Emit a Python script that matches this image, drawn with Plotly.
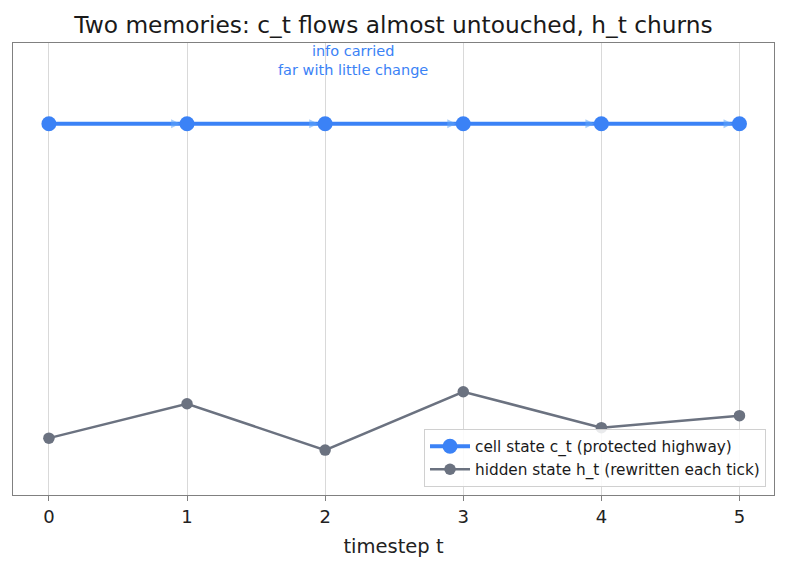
import plotly.graph_objects as go

timesteps = [0, 1, 2, 3, 4, 5]
cell_state = [1.0, 1.0, 1.0, 1.0, 1.0, 1.0]
hidden_state = [-0.05, 0.065, -0.09, 0.105, -0.015, 0.025]
x_ticks = [0, 1, 2, 3, 4, 5]

BLUE = "#3b82f6"
GRAY = "#6b7280"
FONT = "DejaVu Sans"

fig = go.Figure()
fig.add_trace(go.Scatter(
    x=timesteps, y=cell_state, mode="lines+markers",
    name="cell state c_t (protected highway)",
    line=dict(color=BLUE, width=4), marker=dict(size=15, color=BLUE),
))
fig.add_trace(go.Scatter(
    x=timesteps, y=hidden_state, mode="lines+markers",
    name="hidden state h_t (rewritten each tick)",
    line=dict(color=GRAY, width=2.5), marker=dict(size=11.5, color=GRAY),
))

# small arrowheads along the highway
for i in range(len(timesteps) - 1):
    fig.add_annotation(
        x=timesteps[i] + 0.95, y=cell_state[i + 1],
        ax=timesteps[i] + 0.88, ay=cell_state[i],
        xref="x", yref="y", axref="x", ayref="y",
        text="", showarrow=True, arrowhead=2, arrowsize=0.9, arrowwidth=2,
        arrowcolor="rgba(96,165,250,0.55)",
    )

fig.add_annotation(
    x=2.2, y=1.212, xref="x", yref="y", showarrow=False,
    text="info carried<br>far with little change",
    font=dict(family=FONT, size=14.5, color=BLUE), align="center",
)

fig.update_layout(
    width=787, height=569,
    margin=dict(l=13, r=13, t=43, b=74),
    paper_bgcolor="white", plot_bgcolor="white",
    font=dict(family=FONT, color="#222222"),
    title=dict(text="Two memories: c_t flows almost untouched, h_t churns",
               x=0.5, xanchor="center", y=0.956, yanchor="middle",
               font=dict(family=FONT, size=23.3, color="#1a1a1a")),
    showlegend=True,
    legend=dict(x=0.9895, y=0.018, xanchor="right", yanchor="bottom",
                bgcolor="rgba(255,255,255,0.85)", bordercolor="#d0d0d0", borderwidth=1,
                font=dict(family=FONT, size=15.3, color="#1a1a1a"),
                tracegroupgap=0, itemwidth=40),
)
fig.update_xaxes(
    range=[-0.26, 5.25], tickvals=x_ticks, ticktext=[str(v) for v in x_ticks],
    showgrid=True, gridcolor="#d9d9d9", gridwidth=1,
    showline=True, mirror=True, linecolor="#808080", linewidth=1.3,
    ticks="outside", ticklen=5, tickcolor="#808080",
    tickfont=dict(family=FONT, size=18, color="#222222"),
    title=dict(text="timestep t", font=dict(family=FONT, size=19.5, color="#222222"), standoff=13),
    zeroline=False,
)
fig.update_yaxes(
    range=[-0.24, 1.27], showticklabels=False, showgrid=False, zeroline=False,
    showline=True, mirror=True, linecolor="#808080", linewidth=1.3, ticks="",
)

fig.write_html("out.html")
